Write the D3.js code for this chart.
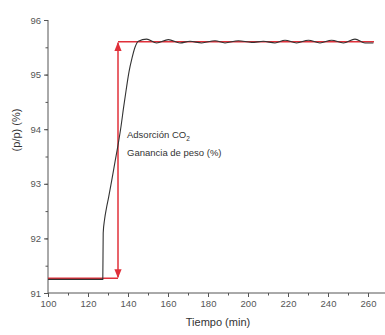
<!DOCTYPE html>
<html>
<head>
<meta charset="utf-8">
<script src="https://cdn.jsdelivr.net/npm/d3@7"></script>
<style>
  body { margin: 0; background: #fff; }
  text { font-family: "Liberation Sans", Arial, sans-serif; }
</style>
</head>
<body>
<div id="chart"></div>
<script>
// weight curve (time in min, weight %)
const tiempo = [100, 110, 120, 127.4, 127.6, 128.3, 129.2, 130.3, 131.8, 133.5, 135.2, 136.5, 137.8, 139.0, 140.5, 142.0, 143.5, 145.2,
  149.3, 154.3, 160.2, 166.0, 171.0, 176.8, 183.5, 188.5, 195.2, 201.8, 207.7, 213.5, 218.5, 224.3, 230.2, 236.0, 241.8, 247.7, 253.5, 258.5, 262.7];
const peso = [91.25, 91.25, 91.25, 91.25, 92.1, 92.35, 92.55, 92.75, 93.05, 93.4, 93.75, 94.05, 94.4, 94.7, 95.05, 95.3, 95.5, 95.61,
  95.65, 95.58, 95.64, 95.58, 95.61, 95.58, 95.62, 95.58, 95.62, 95.59, 95.61, 95.58, 95.63, 95.58, 95.63, 95.58, 95.63, 95.58, 95.65, 95.58, 95.58];

// red guide: baseline, jump and plateau
const pesoInicial = 91.27, pesoFinal = 95.6;
const tInicio = 100, tSalto = 135, tFin = 263;

const xTicks = [100, 120, 140, 160, 180, 200, 220, 240, 260];
const yTicks = [91, 92, 93, 94, 95, 96];

const margin = {top: 20, right: 0, bottom: 42, left: 48},
  width = 385 - margin.left - margin.right,
  height = 335 - margin.top - margin.bottom;

const svg = d3.select("#chart")
  .append("svg")
  .attr("width", 385)
  .attr("height", 335);

const g = svg.append("g")
  .attr("transform", `translate(${margin.left},${margin.top})`);

const x = d3.scaleLinear().domain([100, 268.5]).range([0, width]);
const y = d3.scaleLinear().domain([91, 96]).range([height, 0]);

// axes with minor ticks
const xMinor = d3.range(100, 269, 10);
const yMinor = d3.range(91, 96.01, 0.5);

g.append("g")
  .attr("transform", `translate(0,${height})`)
  .call(d3.axisBottom(x).tickValues(xMinor).tickSize(2.5).tickFormat(""))
  .call(a => a.select(".domain").remove());
g.append("g")
  .attr("transform", `translate(0,${height})`)
  .call(d3.axisBottom(x).tickValues(xTicks).tickSize(4).tickPadding(3).tickFormat(d3.format("d")))
  .call(a => a.select(".domain").attr("d", `M0,0H${width}`));

g.append("g")
  .call(d3.axisLeft(y).tickValues(yMinor).tickSize(2.5).tickFormat(""))
  .call(a => a.select(".domain").remove());
g.append("g")
  .call(d3.axisLeft(y).tickValues(yTicks).tickSize(4).tickPadding(3).tickFormat(d3.format("d")))
  .call(a => a.select(".domain").attr("d", `M0,${height}V0`));

g.selectAll(".tick line, .domain").attr("stroke", "#555").attr("stroke-width", 1);
g.selectAll(".tick text").attr("fill", "#555").style("font-size", "9.5px");

// red guide lines with arrows
const defs = svg.append("defs");
defs.append("marker")
  .attr("id", "flecha")
  .attr("viewBox", "0 0 10 10")
  .attr("refX", 9).attr("refY", 5)
  .attr("markerWidth", 6).attr("markerHeight", 6)
  .attr("orient", "auto-start-reverse")
  .append("path")
  .attr("d", "M0,1L10,5L0,9Z")
  .attr("fill", "#e0303a");

const rojo = "#e0303a";
g.append("line")
  .attr("x1", x(tInicio)).attr("x2", x(tSalto))
  .attr("y1", y(pesoInicial)).attr("y2", y(pesoInicial))
  .attr("stroke", rojo).attr("stroke-width", 1.5);
g.append("line")
  .attr("x1", x(tSalto)).attr("x2", x(tFin))
  .attr("y1", y(pesoFinal)).attr("y2", y(pesoFinal))
  .attr("stroke", rojo).attr("stroke-width", 1.5);
g.append("line")
  .attr("x1", x(tSalto)).attr("x2", x(tSalto))
  .attr("y1", y(pesoInicial) - 1).attr("y2", y(pesoFinal) + 1)
  .attr("stroke", rojo).attr("stroke-width", 1.5)
  .attr("marker-start", "url(#flecha)")
  .attr("marker-end", "url(#flecha)");

// measured curve
const puntos = tiempo.map((t, i) => [t, peso[i]]);
g.append("path")
  .datum(puntos)
  .attr("fill", "none")
  .attr("stroke", "#333")
  .attr("stroke-width", 1.1)
  .attr("d", d3.line().x(d => x(d[0])).y(d => y(d[1])).curve(d3.curveMonotoneX));

// annotation
const nota = g.append("text")
  .attr("x", x(139.5)).attr("y", 118)
  .attr("fill", "#333").style("font-size", "9.5px");
nota.append("tspan").text("Adsorción CO");
nota.append("tspan").attr("dy", 2.5).style("font-size", "6.5px").text("2");
g.append("text")
  .attr("x", x(139.5)).attr("y", 136)
  .attr("fill", "#333").style("font-size", "9.5px")
  .text("Ganancia de peso (%)");

// axis titles
svg.append("text")
  .attr("x", 218).attr("y", 326)
  .attr("text-anchor", "middle")
  .attr("fill", "#333").style("font-size", "11px")
  .text("Tiempo (min)");
svg.append("text")
  .attr("transform", "translate(20,130) rotate(-90)")
  .attr("text-anchor", "middle")
  .attr("fill", "#333").style("font-size", "11px")
  .text("(p/p) (%)");
</script>
</body>
</html>
